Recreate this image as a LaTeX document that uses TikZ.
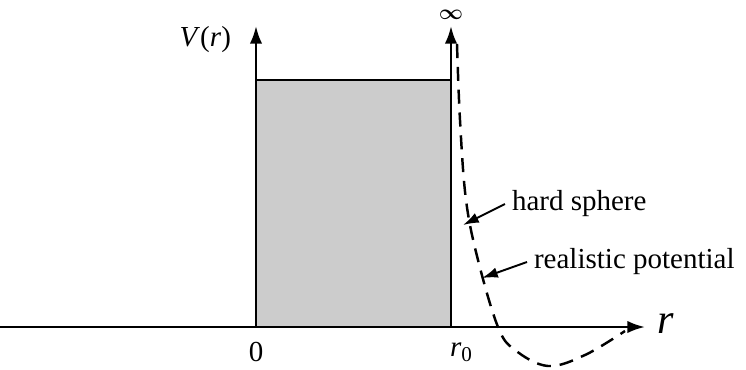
\documentclass[tikz,border=0pt]{standalone}
\usepackage{amsmath}
\usepackage{fontspec}
\setmainfont{Liberation Serif}
\usetikzlibrary{arrows.meta}

\begin{document}
\begin{tikzpicture}[line width=1.4pt,
    axis/.style={-{Latex[length=10pt,width=7pt]}},
    pointer/.style={-{Latex[length=9pt,width=6pt]}, line width=1.1pt},
    lbl/.style={font=\fontsize{16.5}{19}\selectfont}]
    \useasboundingbox (-5.12,-0.84) rectangle (9.80,6.54);
    \coordinate (O) at (0,0);
    \coordinate (R) at (3.9,0);
    \coordinate (Rend) at (7.78,0);
    \coordinate (Vtop) at (0,6.02);
    \coordinate (Rtop) at (3.9,6.02);
    \coordinate (Lstart) at (-5.12,0);
    \fill[black!20] (O) rectangle (3.9,4.94);
    \draw (0,4.94) -- (3.9,4.94);
    \draw[axis] (Lstart) -- (Rend);
    \draw[axis] (O) -- (Vtop);
    \draw[axis] (R) -- (Rtop);
    \draw[dash pattern=on 8pt off 5pt] plot[smooth, tension=0.6] coordinates
        {(4.02,5.66) (4.08,4.14) (4.20,2.54) (4.44,1.34) (4.84,0) (5.18,-0.46)
         (5.84,-0.78) (6.58,-0.56) (7.38,-0.08)};
    \node[lbl, anchor=east] (vr) at (-0.36,5.74) {\textit{V}(\textit{r})};
    \node[inner sep=0pt] (inf) at (3.9,6.24) {\large$\boldsymbol{\infty}$};
    \node[lbl] (zero) at (0,-0.5) {0};
    \node[lbl] (rnull) at (4.1,-0.5) {\textit{r}\raisebox{-0.35ex}{\fontsize{12}{14}\selectfont 0}};
    \node[anchor=west, font=\fontsize{24}{26}\selectfont, inner sep=1pt] (rr) at (7.98,0.06) {\textit{r}};
    \node[lbl, anchor=west] (hard) at (4.98,2.46) {hard sphere};
    \node[lbl, anchor=west] (real) at (5.42,1.30) {realistic potential};
    \coordinate (hs) at (4.14,2.04);
    \coordinate (rp) at (4.52,0.98);
    \draw[pointer] (hard.west) -- (hs);
    \draw[pointer] (real.west) -- (rp);
\end{tikzpicture}
\end{document}
